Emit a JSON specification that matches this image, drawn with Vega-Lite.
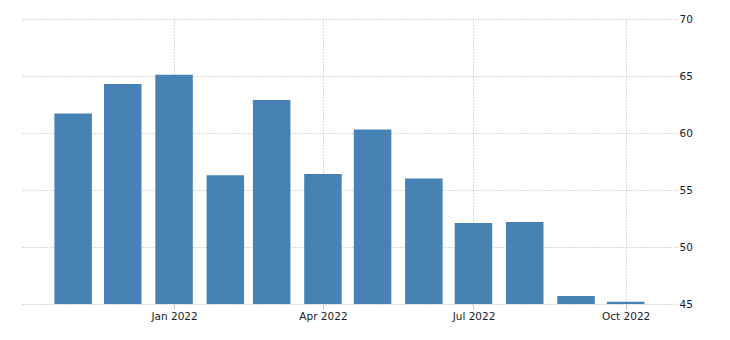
{
  "$schema": "https://vega.github.io/schema/vega-lite/v6.json",
  "autosize": "none",
  "width": 656,
  "height": 285,
  "padding": {"left": 21, "top": 19, "right": 53, "bottom": 36},
  "background": "white",
  "data": {
    "values": [
      {"date": "2021-11-01", "value": 61.7},
      {"date": "2021-12-01", "value": 64.3},
      {"date": "2022-01-01", "value": 65.1},
      {"date": "2022-02-01", "value": 56.3},
      {"date": "2022-03-01", "value": 62.9},
      {"date": "2022-04-01", "value": 56.4},
      {"date": "2022-05-01", "value": 60.3},
      {"date": "2022-06-01", "value": 56.0},
      {"date": "2022-07-01", "value": 52.1},
      {"date": "2022-08-01", "value": 52.2},
      {"date": "2022-09-01", "value": 45.7},
      {"date": "2022-10-01", "value": 45.2}
    ]
  },
  "mark": {"type": "bar", "color": "#4682b4", "width": 37.5, "clip": true},
  "encoding": {
    "x": {
      "field": "date",
      "type": "temporal",
      "scale": {"type": "utc", "domain": [{"year": 2021, "month": 10, "date": 3, "hours": 12, "utc": true}, {"year": 2022, "month": 10, "date": 29, "utc": true}]},
      "axis": {
        "title": null,
        "values": [{"year": 2022, "month": 1, "date": 1, "utc": true}, {"year": 2022, "month": 4, "date": 1, "utc": true}, {"year": 2022, "month": 7, "date": 1, "utc": true}, {"year": 2022, "month": 10, "date": 1, "utc": true}],
        "labelExpr": "utcFormat(datum.value, '%b %Y')",
        "domain": false,
        "grid": true,
        "gridColor": "#b4b4b4",
        "gridDash": [1, 2],
        "tickColor": "#c4c4c4",
        "tickSize": 5,
        "labelPadding": 2,
        "labelFont": "DejaVu Sans",
        "labelFontSize": 10.5,
        "labelColor": "#1a1a2a"
      }
    },
    "y": {
      "field": "value",
      "type": "quantitative",
      "scale": {"domain": [45, 70], "zero": false, "nice": false},
      "axis": {
        "orient": "right",
        "title": null,
        "values": [45, 50, 55, 60, 65, 70],
        "domain": false,
        "ticks": false,
        "grid": true,
        "gridColor": "#b4b4b4",
        "gridDash": [1, 2],
        "labelPadding": 2,
        "labelFont": "DejaVu Sans",
        "labelFontSize": 10.5,
        "labelColor": "#1a1a2a"
      }
    }
  },
  "config": {"view": {"stroke": null}}
}
